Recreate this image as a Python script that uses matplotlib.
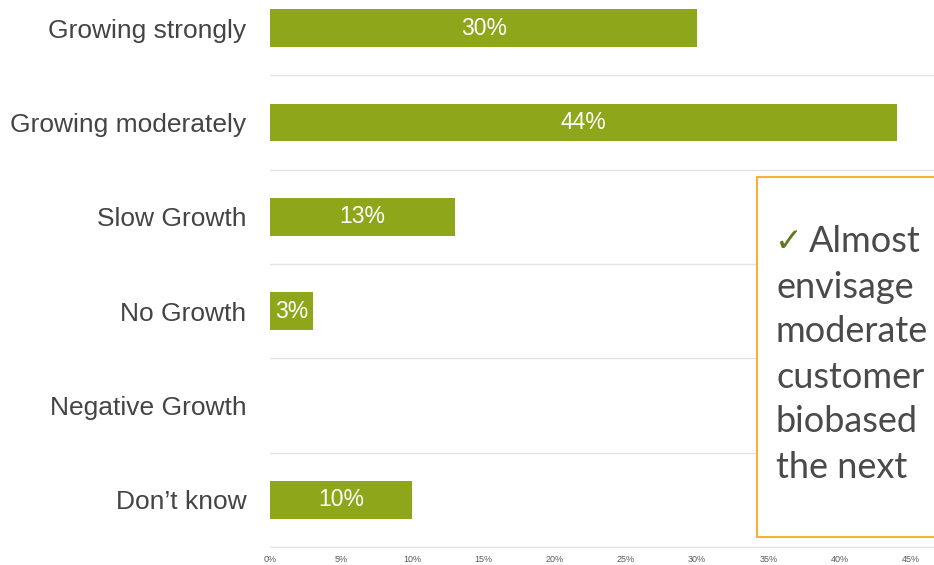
import matplotlib.pyplot as plt
from matplotlib.patches import Rectangle

categories = ["Growing strongly", "Growing moderately", "Slow Growth",
              "No Growth", "Negative Growth", "Don\u2019t know"]
shares = [30, 44, 13, 3, 0, 10]
ticks = [0, 5, 10, 15, 20, 25, 30, 35, 40, 45]
# only the part of the callout that is visible in the cropped slide
callout_lines = ["Almost", "envisage", "moderate", "customer", "biobased", "the next"]

BAR = "#8EA61A"
GRID = "#E3E3E3"
LABEL = "#444444"

W, H = 934, 565
fig = plt.figure(figsize=(W / 100, H / 100), dpi=100)
# axes spills past the top and right edge of the figure, like the slide crop
ax = fig.add_axes([270 / W, 18 / H, 712 / W, 566 / H])

y = list(range(len(categories)))
bars = ax.barh(y, shares, height=0.4, color=BAR, zorder=3)
for b, v in zip(bars, shares):
    if v > 0:
        ax.text(v / 2, b.get_y() + b.get_height() / 2, f"{v}%",
                ha="center", va="center", color="white", fontsize=16.5,
                family="Liberation Sans", zorder=4)

ax.set_xlim(0, 50)
ax.set_ylim(len(categories) - 0.5, -0.5)
ax.set_yticks(y)
ax.set_yticklabels(categories, fontsize=19, color=LABEL, family="Liberation Sans")
ax.set_yticks([i + 0.5 for i in range(-1, len(categories))], minor=True)
ax.grid(True, which="minor", axis="y", color=GRID, linewidth=1, zorder=0)
ax.tick_params(axis="y", which="both", length=0, pad=17)
ax.set_xticks(ticks)
ax.set_xticklabels([f"{t}%" for t in ticks], fontsize=6.5, color="#595959",
                   family="Liberation Sans")
ax.tick_params(axis="x", length=0, pad=6)
for s in ["top", "right", "left"]:
    ax.spines[s].set_visible(False)
ax.spines["bottom"].set_color(GRID)

# callout box, cut off by the right edge
box = Rectangle((757 / W, 1 - 537 / H), 200 / W, 360 / H, transform=fig.transFigure,
                facecolor="white", edgecolor="#F5B335", linewidth=1.5, zorder=5)
fig.patches.append(box)
fig.text(775 / W, 1 - 241 / H, "\u2713", color="#5E7A1E", fontsize=24,
         family="DejaVu Sans", va="center", ha="left", zorder=6)
for i, line in enumerate(callout_lines):
    x0 = 809 if i == 0 else 776
    fig.text(x0 / W, 1 - (242 + i * 45) / H, line, color="#4A4A4A", fontsize=26,
             family=["Lato", "DejaVu Sans"], va="center", ha="left", zorder=6)

fig.savefig("out.png", dpi=100)
